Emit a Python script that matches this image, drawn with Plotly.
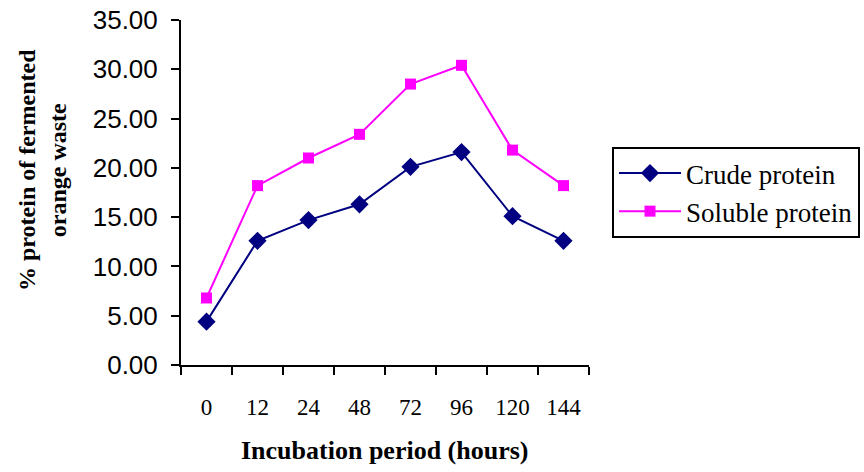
import plotly.graph_objects as go

# Incubation periods (hours) and protein content (%)
periods = ["0", "12", "24", "48", "72", "96", "120", "144"]
crude_protein = [4.4, 12.6, 14.7, 16.3, 20.1, 21.6, 15.1, 12.6]
soluble_protein = [6.8, 18.2, 21.0, 23.4, 28.5, 30.4, 21.8, 18.2]
y_ticks = [0, 5, 10, 15, 20, 25, 30, 35]

NAVY = "#000080"
MAGENTA = "#FF00FF"
SERIF = "Liberation Serif, Times New Roman, serif"
SANS = "Liberation Sans, Arial, sans-serif"

fig = go.Figure()
fig.add_trace(go.Scatter(
    x=periods, y=crude_protein, name="Crude protein", mode="lines+markers",
    line=dict(color=NAVY, width=2),
    marker=dict(symbol="diamond", size=14, color=NAVY),
))
fig.add_trace(go.Scatter(
    x=periods, y=soluble_protein, name="Soluble protein", mode="lines+markers",
    line=dict(color=MAGENTA, width=2),
    marker=dict(symbol="square", size=11, color=MAGENTA),
))

L, R, T, B = 181, 275, 20, 107
W, H = 864, 472
pw, ph = W - L - R, H - T - B

fig.update_layout(
    width=W, height=H,
    margin=dict(l=L, r=R, t=T, b=B, autoexpand=False),
    plot_bgcolor="white", paper_bgcolor="white",
    showlegend=True,
    legend=dict(
        x=(612 - L) / pw, y=(H - B - 147) / ph, xanchor="left", yanchor="top",
        bordercolor="black", borderwidth=2, bgcolor="white",
        font=dict(family=SERIF, size=27, color="black"),
        itemwidth=62, tracegroupgap=0,
    ),
    xaxis=dict(
        type="category", range=[-0.5, 7.5],
        showline=True, linecolor="black", linewidth=2,
        ticks="outside", tickson="boundaries", ticklen=8, tickwidth=2, tickcolor="black",
        tickfont=dict(family=SERIF, size=23, color="black"),
        ticklabelstandoff=20,
        showgrid=False, zeroline=False,
    ),
    yaxis=dict(
        range=[0, 35], tickvals=y_ticks, tickformat=".2f",
        showline=True, linecolor="black", linewidth=2,
        ticks="outside", ticklen=8, tickwidth=2, tickcolor="black",
        tickfont=dict(family=SANS, size=26, color="black"),
        ticklabelstandoff=8,
        showgrid=False, zeroline=False,
    ),
    annotations=[
        dict(
            text="<b>% protein of fermented<br>orange waste</b>",
            textangle=-90, xref="paper", yref="paper",
            x=(42 - L) / pw, y=(H - B - 170) / ph,
            xanchor="center", yanchor="middle", showarrow=False,
            font=dict(family=SERIF, size=24, color="black"),
        ),
        dict(
            text="<b>Incubation period (hours)</b>",
            xref="paper", yref="paper",
            x=(385 - L) / pw, y=(H - B - 450) / ph,
            xanchor="center", yanchor="middle", showarrow=False,
            font=dict(family=SERIF, size=26, color="black"),
        ),
    ],
)

fig.write_html("out.html")
